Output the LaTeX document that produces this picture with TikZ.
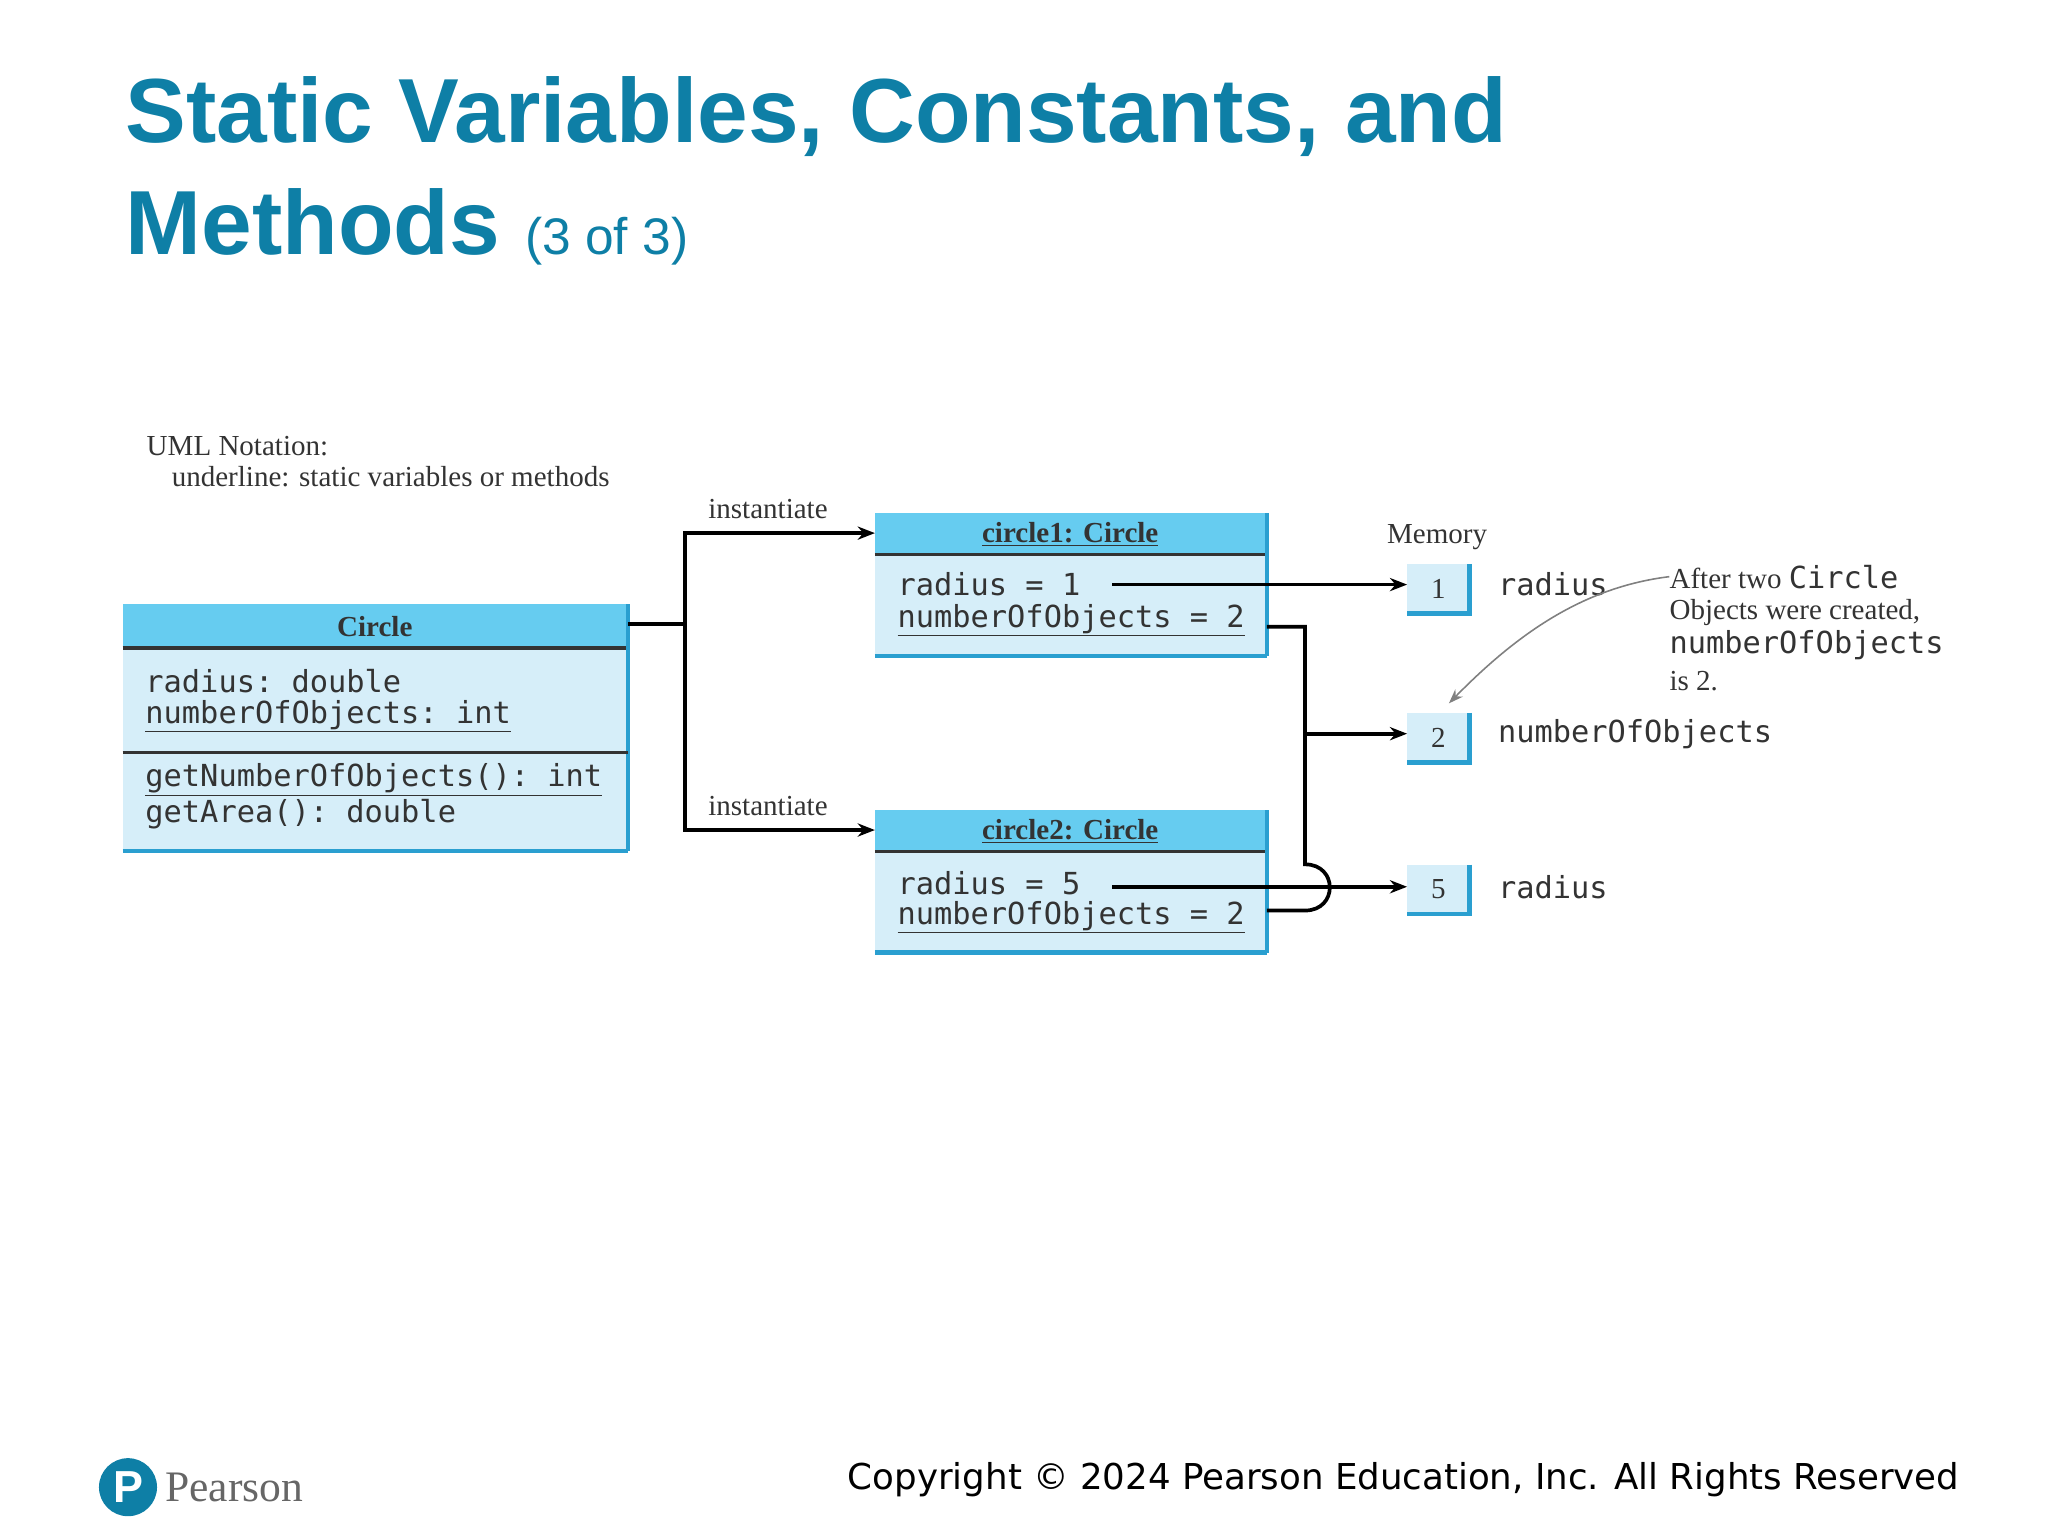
\documentclass[tikz,border=0pt]{standalone}
\usepackage{fontspec}
\setmainfont{Liberation Serif}
\setsansfont{Liberation Sans}
\setmonofont{DejaVu Sans Mono}
\usetikzlibrary{arrows.meta}
\definecolor{ttl}{HTML}{0E7FA6}
\definecolor{bfill}{HTML}{D6EEF9}
\definecolor{hfill}{HTML}{66CCF0}
\definecolor{bedge}{HTML}{2A9FD0}
\definecolor{gtx}{HTML}{333333}
\tikzset{
 conn/.style={line width=2.8pt,black},
 arr/.style={conn,-{Stealth[length=13pt,width=10pt]}},
 mono/.style={font=\fontsize{23}{28}\selectfont\ttfamily,text=gtx,anchor=west,inner sep=0pt},
 ser/.style={font=\fontsize{22}{26}\selectfont,text=gtx,inner sep=0pt},
 mem/.style={draw=none,fill=bfill,minimum width=47pt,minimum height=37pt,inner sep=0pt,font=\fontsize{22}{26}\selectfont,text=gtx}
}
\newcommand{\umlbox}[5]{%
 \fill[bfill] (#1,#2) rectangle (#3,#4);
 \fill[hfill] (#1,#2) rectangle (#3,#5);
 \draw[line width=2.4pt,gtx] (#1,#5) -- (#3,#5);
 \draw[line width=3.5pt,bedge] (#1,#4) -- (#3,#4);
 \draw[line width=3.5pt,bedge] (#3,#2) -- (#3,#4);
}
\begin{document}
\begin{tikzpicture}[x=1pt,y=-1pt]
\useasboundingbox (0,0) rectangle (1552,1164);
% title
\node[anchor=base west,inner sep=0pt,text=ttl,font=\fontsize{69}{72}\selectfont\sffamily\bfseries] (t1) at (95,108) {Static Variables, Constants, and};
\node[anchor=base west,inner sep=0pt,text=ttl,font=\fontsize{69}{72}\selectfont\sffamily\bfseries] (t2) at (95,193) {Methods \mdseries\fontsize{39}{40}\selectfont (3 of 3)};
% notation
\node[ser,anchor=west] (n1) at (111,338) {UML Notation:};
\node[ser,anchor=west] (n2) at (130,361) {underline: static variables or methods};
% Circle class
\umlbox{93}{458}{476}{645}{491}
\draw[line width=2.4pt,gtx] (93,570) -- (476,570);
\node[ser,font=\fontsize{22}{26}\selectfont\bfseries] (cc) at (284,475) {Circle};
\node[mono] (c1) at (110,516) {radius: double};
\node[mono] (c2) at (110,543) {\underline{numberOfObjects: int}};
\node[mono] (c3) at (110,591) {\underline{getNumberOfObjects(): int}};
\node[mono] (c4) at (110,617) {getArea(): double};
\coordinate (cr) at (476,473);
% circle1
\umlbox{663}{389}{960}{497}{420}
\node[ser,font=\fontsize{22}{26}\selectfont\bfseries] (h1) at (811,405) {\underline{circle1: Circle}};
\node[mono] (a1) at (680,443) {radius = 1};
\node[mono] (b1) at (680,470) {\underline{numberOfObjects = 2}};
% circle2
\umlbox{663}{614}{960}{722}{645}
\node[ser,font=\fontsize{22}{26}\selectfont\bfseries] (h2) at (811,630) {\underline{circle2: Circle}};
\node[mono] (a2) at (680,669) {radius = 5};
\node[mono] (b2) at (680,695) {\underline{numberOfObjects = 2}};
\coordinate (i1) at (663,404);
\coordinate (i2) at (663,629);
\draw[conn] (cr) -- (519,473);
\draw[arr] (519,473) |- (i1);
\draw[arr] (519,473) |- (i2);
\node[ser] (l1) at (582,386) {instantiate};
\node[ser] (l2) at (582,611) {instantiate};
% memory
\node[ser] (memo) at (1089,407) {Memory};
\node[mem] (m1) at (1090,446) {1};
\node[mem] (m2) at (1090,559) {2};
\node[mem] (m5) at (1090,674) {5};
\foreach \m in {m1,m2,m5}{
 \draw[line width=3.5pt,bedge] (\m.north east) -- (\m.south east) -- (\m.south west);}
\node[mono] (r1) at (1135,443) {radius};
\node[mono] (r2) at (1135,556) {numberOfObjects};
\node[mono] (r5) at (1135,672) {radius};
\draw[arr] (843,443) -- (m1.west |- 0,443);
\draw[arr] (843,672) -- (m5.west |- 0,672);
\draw[conn] (960,475) -- (989,475) -- (989,655) .. controls (1014,655) and (1014,690) .. (989,690) -- (960,690);
\draw[arr] (989,556) -- (m2.west |- 0,556);
% annotation
\node[ser,anchor=west] (an1) at (1265,437) {After two {\ttfamily\fontsize{23}{26}\selectfont Circle}};
\node[ser,anchor=west] (an2) at (1265,464) {Objects were created,};
\node[mono] (an3) at (1265,489) {numberOfObjects};
\node[ser,anchor=west] (an4) at (1265,516) {is 2.};
\draw[gray,line width=1.2pt,-{Stealth[length=11pt,width=8pt]}] (an1.west) .. controls (1200,445) and (1150,480) .. (1098,533);
% footer
\node[anchor=east,inner sep=0pt,font=\fontsize{27}{30}\selectfont,text=black] (cp) at (1485,1121) {\fontspec{DejaVu Sans}Copyright © 2024 Pearson Education, Inc. All Rights Reserved};
\node[circle,fill=ttl,minimum size=44pt,inner sep=0pt,text=white,font=\fontsize{34}{34}\selectfont\sffamily\bfseries] (logo) at (97,1127) {P};
\node[anchor=west,inner sep=0pt,text=gray!80!black,font=\fontsize{33}{36}\selectfont] (pe) at (125,1127) {Pearson};
\end{tikzpicture}
\end{document}
